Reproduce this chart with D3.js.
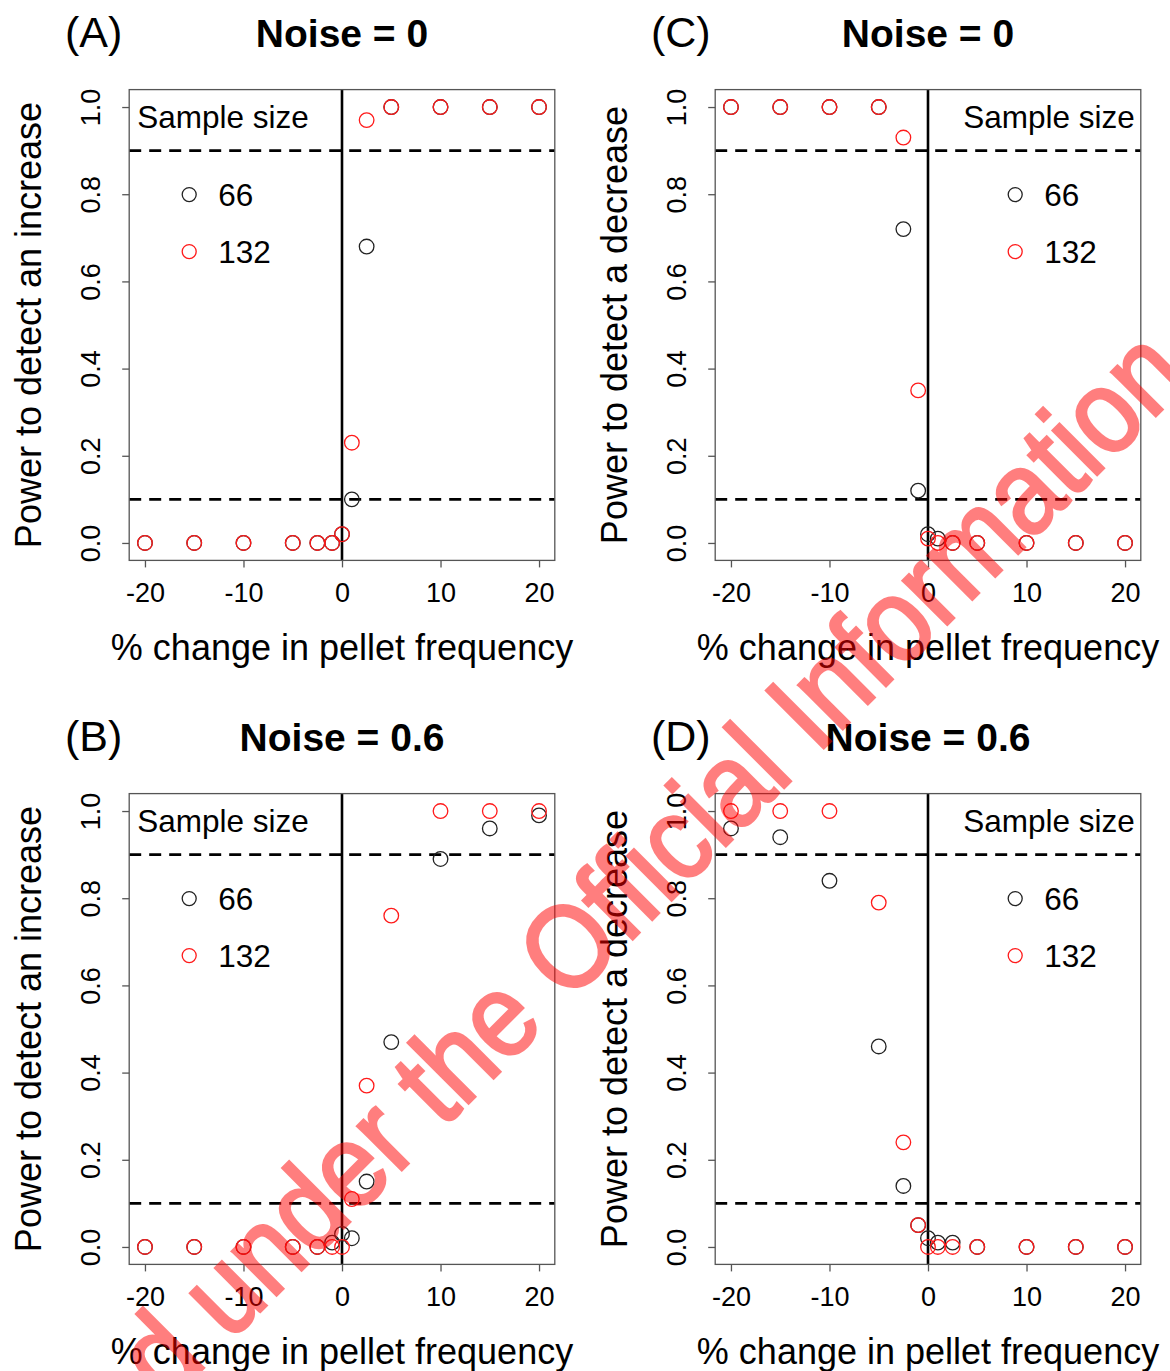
<!DOCTYPE html>
<html>
<head>
<meta charset="utf-8">
<script src="https://cdn.jsdelivr.net/npm/d3@7/dist/d3.min.js"></script>
<style>
  html, body { margin: 0; padding: 0; background: #fff; }
  svg { display: block; }
</style>
</head>
<body>
<svg id="chart" width="1170" height="1371"></svg>
<script>
// Percentage change in pellet frequency at which power was simulated
const pctChange = [-20, -15, -10, -5, -2.5, -1, 0, 1, 2.5, 5, 10, 15, 20];

// Sample sizes shown in the legend
const sampleSizes = ["66", "132"];

// (A) power to detect an increase, noise = 0
const incNoise0_n66  = [0, 0, 0, 0, 0, 0, 0.02, 0.10, 0.68, 1, 1, 1, 1];
const incNoise0_n132 = [0, 0, 0, 0, 0, 0, 0.02, 0.23, 0.97, 1, 1, 1, 1];

// (B) power to detect an increase, noise = 0.6
const incNoise06_n66  = [0, 0, 0, 0, 0, 0.01, 0.03, 0.02, 0.15, 0.47, 0.89, 0.96, 0.99];
const incNoise06_n132 = [0, 0, 0, 0, 0, 0, 0, 0.11, 0.37, 0.76, 1, 1, 1];

// (C) power to detect a decrease, noise = 0
const decNoise0_n66  = [1, 1, 1, 1, 0.72, 0.12, 0.02, 0.01, 0, 0, 0, 0, 0];
const decNoise0_n132 = [1, 1, 1, 1, 0.93, 0.35, 0.01, 0, 0, 0, 0, 0, 0];

// (D) power to detect a decrease, noise = 0.6
const decNoise06_n66  = [0.96, 0.94, 0.84, 0.46, 0.14, 0.05, 0.02, 0.01, 0.01, 0, 0, 0, 0];
const decNoise06_n132 = [1, 1, 1, 0.79, 0.24, 0.05, 0, 0, 0, 0, 0, 0, 0];

// Axis ticks and reference lines
const xTicks = [-20, -10, 0, 10, 20];
const yTicks = [0, 0.2, 0.4, 0.6, 0.8, 1.0];
const powerThresholds = [0.1, 0.9];

const panels = [
  { tag: "(A)", title: "Noise = 0",   ylab: "Power to detect an increase", s66: incNoise0_n66,  s132: incNoise0_n132,  legend: "left",  col: 0, row: 0 },
  { tag: "(B)", title: "Noise = 0.6", ylab: "Power to detect an increase", s66: incNoise06_n66, s132: incNoise06_n132, legend: "left",  col: 0, row: 1 },
  { tag: "(C)", title: "Noise = 0",   ylab: "Power to detect a decrease",  s66: decNoise0_n66,  s132: decNoise0_n132,  legend: "right", col: 1, row: 0 },
  { tag: "(D)", title: "Noise = 0.6", ylab: "Power to detect a decrease",  s66: decNoise06_n66, s132: decNoise06_n132, legend: "right", col: 1, row: 1 }
];

const FONT = "'Liberation Sans', Arial, Helvetica, sans-serif";
const colors = { "66": "#222", "132": "#ff1a1a" };

const colStep = 586, rowStep = 704;
const plotL = 129.2, plotR = 554.8, plotT = 89.6, plotB = 560.4;

const x = d3.scaleLinear().domain([-21.6, 21.6]).range([plotL, plotR]);
const y = d3.scaleLinear().domain([-0.04, 1.04]).range([plotB, plotT]);

const svg = d3.select("#chart");

panels.forEach(p => {
  const g = svg.append("g")
    .attr("transform", `translate(${p.col * colStep},${p.row * rowStep})`);

  // panel tag and title
  g.append("text").attr("x", 65).attr("y", 47)
    .attr("font-family", FONT).attr("font-size", 43).attr("fill", "#000")
    .text(p.tag);
  g.append("text").attr("x", 342).attr("y", 47).attr("text-anchor", "middle")
    .attr("font-family", FONT).attr("font-size", 39).attr("font-weight", "bold").attr("fill", "#000")
    .text(p.title);

  // x axis
  const xa = g.append("g").attr("transform", `translate(0,${plotB})`)
    .call(d3.axisBottom(x).tickValues(xTicks).tickSize(7).tickSizeOuter(0).tickFormat(d3.format("d")));
  xa.select(".domain").remove();
  xa.selectAll(".tick line").attr("stroke", "#555").attr("stroke-width", 1.3);
  xa.selectAll(".tick text").attr("font-family", FONT).attr("font-size", 27).attr("fill", "#000")
    .attr("y", 42).attr("dy", 0)
    .text(d => d < 0 ? "-" + Math.abs(d) : d);

  // y axis with rotated labels
  const ya = g.append("g").attr("transform", `translate(${plotL},0)`)
    .call(d3.axisLeft(y).tickValues(yTicks).tickSize(7).tickSizeOuter(0).tickFormat(d3.format(".1f")));
  ya.select(".domain").remove();
  ya.selectAll(".tick line").attr("stroke", "#555").attr("stroke-width", 1.3);
  ya.selectAll(".tick text").attr("font-family", FONT).attr("font-size", 27).attr("fill", "#000")
    .attr("text-anchor", "middle").attr("x", 0).attr("y", -29).attr("dy", 0)
    .attr("transform", "rotate(-90)");

  // axis titles
  g.append("text").attr("x", 342).attr("y", 660).attr("text-anchor", "middle")
    .attr("font-family", FONT).attr("font-size", 36).attr("fill", "#000")
    .text("% change in pellet frequency");
  g.append("text").attr("transform", `translate(41,${(plotT + plotB) / 2}) rotate(-90)`)
    .attr("text-anchor", "middle")
    .attr("font-family", FONT).attr("font-size", 36).attr("fill", "#000")
    .text(p.ylab);

  // reference lines: zero change and power thresholds
  g.append("line").attr("x1", x(0)).attr("x2", x(0)).attr("y1", plotT).attr("y2", plotB)
    .attr("stroke", "#000").attr("stroke-width", 2.6);
  g.selectAll(".thr").data(powerThresholds).enter().append("line")
    .attr("x1", plotL).attr("x2", plotR).attr("y1", d => y(d)).attr("y2", d => y(d))
    .attr("stroke", "#000").attr("stroke-width", 2.6).attr("stroke-dasharray", "12,8");

  // plot frame
  g.append("rect").attr("x", plotL).attr("y", plotT)
    .attr("width", plotR - plotL).attr("height", plotB - plotT)
    .attr("fill", "none").attr("stroke", "#555").attr("stroke-width", 1.3);

  // points
  [["66", p.s66], ["132", p.s132]].forEach(([n, vals]) => {
    g.selectAll(null).data(pctChange.map((c, i) => [c, vals[i]])).enter().append("circle")
      .attr("cx", d => x(d[0])).attr("cy", d => y(d[1])).attr("r", 7.3)
      .attr("fill", "none").attr("stroke", colors[n]).attr("stroke-width", 1.3);
  });

  // legend
  const legW = 185.6;
  const lx = p.legend === "left" ? plotL : plotR - legW;
  const lg = g.append("g").attr("transform", `translate(${lx},${plotT})`);
  lg.append("text").attr("x", 8).attr("y", 38)
    .attr("font-family", FONT).attr("font-size", 31.5).attr("fill", "#000").text("Sample size");
  sampleSizes.forEach((n, i) => {
    const cy = 105 + i * 57;
    lg.append("circle").attr("cx", 60).attr("cy", cy).attr("r", 7)
      .attr("fill", "none").attr("stroke", colors[n]).attr("stroke-width", 1.3);
    lg.append("text").attr("x", 89).attr("y", cy + 11)
      .attr("font-family", FONT).attr("font-size", 31.5).attr("fill", "#000").text(n);
  });
});

// release stamp across the figure (group opacity so fill and outline blend as one)
const stampText = "Released under the Official Information Act";
const stampSize = 118;
const stampG = svg.append("g").attr("opacity", 0.5)
  .attr("transform", "translate(567,945) rotate(-45) scale(0.9,1)");
const stamp = stampG.append("text")
  .attr("font-family", FONT).attr("font-size", stampSize)
  .attr("fill", "rgb(255,0,0)").attr("stroke", "rgb(255,0,0)").attr("stroke-width", 3)
  .text(stampText);
const node = stamp.node();
const iO = stampText.indexOf("Official");
const before = node.getSubStringLength(0, iO);
const wO = node.getSubStringLength(iO, 1);
stamp.attr("x", -(before + wO / 2)).attr("y", 0.716 * stampSize / 2);
</script>
</body>
</html>
